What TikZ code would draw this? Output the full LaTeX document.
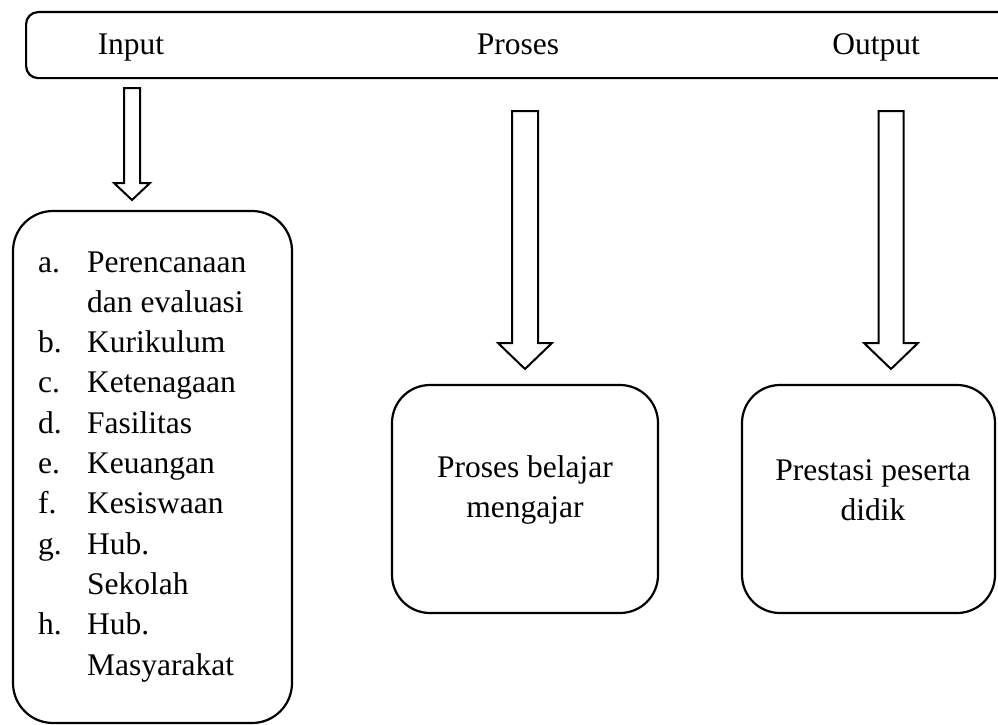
\documentclass[tikz,border=0pt]{standalone}
\usepackage{fontspec}
\setmainfont{Liberation Serif}
\usetikzlibrary{positioning}

\tikzset{
  roundbox/.style={draw, line width=2.2pt, rounded corners=#1, inner sep=0pt},
  hollowarrow/.style={draw, line width=2pt, line join=miter, fill=white},
  every node/.style={font=\fontsize{31.5}{40.3}\selectfont}
}

\begin{document}
\begin{tikzpicture}[x=1pt, y=-1pt]
\useasboundingbox (0,0) rectangle (998,725);

% Balok atas
\node[roundbox=12pt, minimum width=985pt, minimum height=66pt, anchor=north west] (bar) at (25,11) {};
\node[anchor=base] (lblInput) at (131,55) {Input};
\node[anchor=base] (lblProses) at (518,55) {Proses};
\node[anchor=base] (lblOutput) at (876,55) {Output};

% Panah blok
\foreach \cx/\ytop/\ywing/\ytip/\sw/\hw in {132/88/183/200/8/18, 525/111/343/369/13/27, 891/111/343/369/12.5/27}
  \draw[hollowarrow] (\cx-\sw,\ytop) -- (\cx+\sw,\ytop) -- (\cx+\sw,\ywing) -- (\cx+\hw,\ywing)
    -- (\cx,\ytip) -- (\cx-\hw,\ywing) -- (\cx-\sw,\ywing) -- cycle;

% Kotak-kotak
\node[roundbox=40pt, minimum width=279pt, minimum height=512pt] (inputbox) at (152.5,467) {};
\node[roundbox=38pt, minimum width=266pt, minimum height=228pt] (prosesbox) at (525,499) {};
\node[roundbox=38pt, minimum width=253pt, minimum height=228pt] (outputbox) at (868.5,499) {};

% Isi kotak
\node[anchor=base west, inner sep=0pt] (inputlist) at (38,272) {%
  \begin{tabular}[t]{@{}p{49pt}@{}l@{}}
  a. & Perencanaan\\
     & dan evaluasi\\
  b. & Kurikulum\\
  c. & Ketenagaan\\
  d. & Fasilitas\\
  e. & Keuangan\\
  f. & Kesiswaan\\
  g. & Hub.\\
     & Sekolah\\
  h. & Hub.\\
     & Masyarakat
  \end{tabular}};
\node[align=center, inner sep=0pt] (prosestext) at (525,490) {Proses belajar\\mengajar};
\node[align=center, inner sep=0pt] (outputtext) at (873,490) {Prestasi peserta\\didik};

\end{tikzpicture}
\end{document}
